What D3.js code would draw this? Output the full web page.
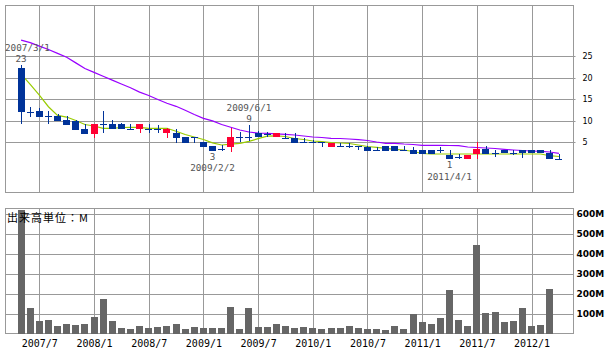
<!DOCTYPE html>
<html><head><meta charset="utf-8">
<script src="https://cdn.jsdelivr.net/npm/d3@7"></script>
<style>body{margin:0;background:#fff}svg{display:block}</style>
</head><body><svg id="c" width="612" height="352"></svg>
<script>
const categories = ["2007/5","2007/6","2007/7","2007/8","2007/9","2007/10","2007/11","2007/12",
 "2008/1","2008/2","2008/3","2008/4","2008/5","2008/6","2008/7","2008/8","2008/9","2008/10","2008/11","2008/12",
 "2009/1","2009/2","2009/3","2009/4","2009/5","2009/6","2009/7","2009/8","2009/9","2009/10","2009/11","2009/12",
 "2010/1","2010/2","2010/3","2010/4","2010/5","2010/6","2010/7","2010/8","2010/9","2010/10","2010/11","2010/12",
 "2011/1","2011/2","2011/3","2011/4","2011/5","2011/6","2011/7","2011/8","2011/9","2011/10","2011/11","2011/12",
 "2012/1","2012/2","2012/3","2012/4"];
const open = [22.1,12.05,12.3,11.1,11.05,10.2,9.95,8.1,6.93,9.1,
 9.2,9.2,8.0,7.95,8.0,8.1,7.0,7.16,6.1,6.1,
 4.93,4.07,3.3,3.9,6.1,6.1,7.16,6.86,6.1,6.0,
 6.0,5.07,5.07,4.93,3.9,4.07,4.07,4.07,3.9,3.14,
 4.07,4.07,3.14,3.14,3.14,3.14,3.14,2.0,1.5,1.0,
 2.14,3.3,2.5,3.14,2.5,3.14,3.14,3.14,2.37,1.0];
const high = [23,13.1,12.8,12.2,11.4,11.05,10.2,9.1,9.2,12.2,
 10.1,9.4,9.2,9.2,9.2,8.95,8.2,8.0,6.2,6.2,
 4.93,4.07,4.3,8.2,7.26,9.0,7.5,7.3,7.16,7.0,
 7.0,6.0,5.5,4.93,4.7,4.7,4.7,4.07,4.07,3.9,
 4.07,4.07,4.07,3.9,3.14,3.14,3.9,3.14,2.14,2.0,
 5.0,4.07,3.14,3.14,3.14,3.14,3.14,3.14,3.14,2.14];
const low = [9.1,10.9,10.9,9.1,9.95,8.95,7.86,6.93,6.0,7.0,
 7.95,7.95,8.0,7.0,7.0,7.0,6.0,4.84,4.84,4.84,
 3.77,2.9,2.9,2.75,5.07,5.3,6.1,6.1,6.1,5.7,
 4.84,4.84,4.84,3.9,3.9,3.9,3.6,3.14,2.98,2.98,
 2.98,2.98,2.9,2.14,2.14,2.14,2.37,1.0,1.0,1.0,
 1.0,2.14,1.6,2.37,2.0,1.3,2.37,2.37,1.0,1.0];
const close = [12.05,12.05,10.9,11.1,9.95,8.95,7.86,6.93,9.2,9.1,
 7.95,7.95,8.0,9.2,8.0,8.1,8.0,6.0,4.84,6.1,
 3.77,2.9,3.3,6.1,6.1,6.1,6.1,6.86,7.16,6.0,
 4.84,5.07,5.07,4.93,4.7,4.07,4.07,4.07,2.98,3.14,
 2.98,2.98,3.14,2.14,2.14,2.14,3.14,1.0,1.5,2.0,
 3.3,2.14,2.5,2.37,2.5,2.37,2.37,2.37,1.0,1.0];
const maShort = [20.8,18.4,15.9,13.2,11.2,10.8,10.0,9.07,8.72,8.19,
 8.19,8.37,8.42,8.42,8.19,8.19,8.19,7.5,6.74,6.16,
 5.58,4.81,4.3,4.49,4.7,5.16,5.77,6.35,6.44,6.28,
 5.81,5.58,5.23,5.07,4.88,4.77,4.65,4.3,3.95,3.77,
 3.53,3.3,3.14,2.79,2.33,2.21,2.21,2.21,2.21,2.21,
 2.21,2.21,2.21,2.21,2.21,2.21,2.21,2.21,1.81,1.63];
const maLong = [28.7,28.1,27.3,26.5,25.6,24.7,23.4,22.1,21.2,20.3,
 19.4,18.5,17.6,16.6,15.8,14.9,14.0,13.3,12.4,11.4,
 10.5,9.9,9.07,8.42,7.79,7.33,7.09,7.02,6.9,6.79,
 6.63,6.4,6.16,6.05,5.86,5.81,5.7,5.53,5.35,5.0,
 4.7,4.7,4.53,4.42,4.23,4.23,4.23,4.19,4.14,3.84,
 3.72,3.6,3.49,3.3,3.14,3.02,2.91,2.84,2.67,2.37];
const volume = [617,129,62,67,37,47,42,47,82,172,
 62,27,22,37,27,32,37,47,22,32,
 27,27,27,132,22,127,32,32,47,37,
 27,32,27,22,27,27,37,27,22,22,
 17,37,22,97,57,47,77,217,67,37,
 442,102,107,57,62,127,37,42,222,null];
const priceTicks = [5,10,15,20,25];
const volumeTicks = [100,200,300,400,500,600];
const monthTicks = ["2007/7","2008/1","2008/7","2009/1","2009/7","2010/1","2010/7","2011/1","2011/7","2012/1"];
const markerCategory = ["2007/5","2009/6","2009/2","2011/4"];
const markerDate = ["2007/3/1","2009/6/1","2009/2/2","2011/4/1"];
const markerValue = ["23","9","3","1"];
const markerSide = ["high","high","low","low"];
const volumeTitle = "出来高単位：M";

const svg = d3.select("#c");
const L = 5.5, R = 573.5;
const P = {top:5.5, bottom:192.5};
const V = {top:208.5, bottom:333.5};
const gridColor = "#999";
const x = d3.scalePoint().domain(categories).range([21.1, 558.9]);
const yP = d3.scaleLinear().domain([0,25]).range([163.5,56]);
const yV = d3.scaleLinear().domain([0,600]).range([333.5,213.5]);
const px = v => Math.round(v) + 0.5;

svg.append("rect").attr("width",612).attr("height",352).attr("fill","#fff");

// price grid
const gp = svg.append("g");
gp.selectAll("line.h").data(priceTicks).join("line")
  .attr("x1",L).attr("x2",R+2).attr("y1",d=>px(yP(d))).attr("y2",d=>px(yP(d)))
  .attr("stroke",gridColor);
gp.selectAll("line.v").data(monthTicks).join("line").attr("class","v")
  .attr("x1",d=>px(x(d))).attr("x2",d=>px(x(d))).attr("y1",P.top).attr("y2",P.bottom)
  .attr("stroke",gridColor);
gp.append("rect").attr("x",L).attr("y",P.top).attr("width",R-L).attr("height",P.bottom-P.top)
  .attr("fill","none").attr("stroke",gridColor);

// volume grid
const gv = svg.append("g");
gv.selectAll("line.h").data(volumeTicks).join("line")
  .attr("x1",L).attr("x2",R).attr("y1",d=>px(yV(d))).attr("y2",d=>px(yV(d)))
  .attr("stroke",gridColor);
gv.selectAll("line.v").data(monthTicks).join("line").attr("class","v")
  .attr("x1",d=>px(x(d))).attr("x2",d=>px(x(d))).attr("y1",V.top).attr("y2",V.bottom)
  .attr("stroke",gridColor);
gv.append("rect").attr("x",L).attr("y",V.top).attr("width",R-L).attr("height",V.bottom-V.top)
  .attr("fill","none").attr("stroke",gridColor);

// axes (labels)
const ap = svg.append("g").attr("transform",`translate(${R},0)`)
  .call(d3.axisRight(yP).tickValues(priceTicks).tickSize(0).tickPadding(9));
ap.select(".domain").remove();
ap.selectAll("text").attr("font-family","DejaVu Sans").attr("font-size","8px").attr("fill","#000");

const av = svg.append("g").attr("transform",`translate(${R},0)`)
  .call(d3.axisRight(yV).tickValues(volumeTicks).tickSize(0).tickPadding(3).tickFormat(d=>d+"M"));
av.select(".domain").remove();
av.selectAll("text").attr("font-family","DejaVu Sans").attr("font-weight","bold").attr("font-size","9px").attr("fill","#000");

const ax = svg.append("g").attr("transform",`translate(0,${V.bottom})`)
  .call(d3.axisBottom(x).tickValues(monthTicks).tickSize(0).tickPadding(6));
ax.select(".domain").remove();
ax.selectAll("text").attr("font-family","DejaVu Sans Mono").attr("font-size","10px").attr("fill","#000");

// volume bars
svg.append("g").selectAll("rect").data(categories.map((c,i)=>({c,v:volume[i]})).filter(d=>d.v))
  .join("rect")
  .attr("x",d=>Math.round(x(d.c)-3.5)).attr("width",7)
  .attr("y",d=>Math.round(yV(d.v))).attr("height",d=>Math.round(yV(0))-Math.round(yV(d.v)))
  .attr("fill","#666");

svg.append("text").attr("x",7).attr("y",221.5).text(volumeTitle)
  .attr("font-family","Noto Sans CJK JP").attr("font-size","11px").attr("letter-spacing","1px").attr("fill","#000");

// moving averages
const line = d3.line().x((d,i)=>x(categories[i])).y(d=>yP(d));
svg.append("path").attr("d",line(maLong)).attr("fill","none").attr("stroke","#9900ff").attr("stroke-width",1.2);
svg.append("path").attr("d",line(maShort)).attr("fill","none").attr("stroke","#99cc00").attr("stroke-width",1.2);

// candles
const blue = "#003399", red = "#ff0033";
const cg = svg.append("g");
categories.forEach((c,i)=>{
  const cx = x(c);
  const o=open[i], h=high[i], l=low[i], cl=close[i];
  const col = cl>o ? red : blue;
  cg.append("line").attr("x1",px(cx)).attr("x2",px(cx))
    .attr("y1",Math.round(yP(h))).attr("y2",Math.round(yP(l))).attr("stroke",col);
  const bx = Math.round(cx-3.5);
  if (o===cl) {
    cg.append("line").attr("x1",bx).attr("x2",bx+7)
      .attr("y1",px(yP(o))).attr("y2",px(yP(o))).attr("stroke",col);
  } else {
    const y1 = Math.round(yP(Math.max(o,cl))), y2 = Math.round(yP(Math.min(o,cl)));
    cg.append("rect").attr("x",bx).attr("width",7).attr("y",y1).attr("height",Math.max(1,y2-y1)).attr("fill",col);
  }
});

// markers
const mg = svg.append("g").attr("font-family","DejaVu Sans Mono").attr("font-size","9.3px").attr("fill","#555");
markerCategory.forEach((c,k)=>{
  const i = categories.indexOf(c);
  const cx = x(c);
  let yv, yd;
  if (markerSide[k]==="high") { const y=yP(high[i]); yv=y-3; yd=y-13.8; }
  else { const y=yP(low[i]); yv=y+8.8; yd=y+20.3; }
  mg.append("text").attr("x",cx).attr("y",yv).attr("text-anchor","middle").text(markerValue[k]);
  const t = mg.append("text").attr("x",cx).attr("y",yd).attr("text-anchor","middle").text(markerDate[k]);
  const w = t.node().getComputedTextLength();
  if (cx - w/2 < 5) t.attr("text-anchor","start").attr("x",5);
});
</script></body></html>
